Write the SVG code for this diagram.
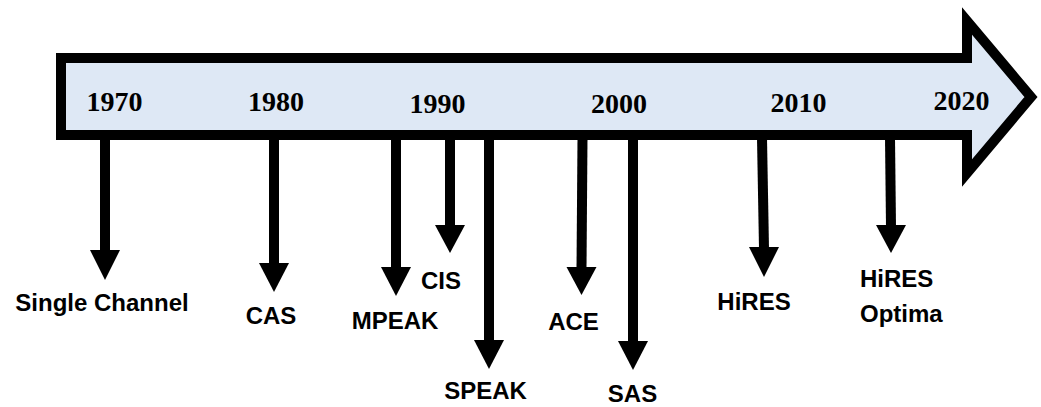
<svg xmlns="http://www.w3.org/2000/svg" width="1041" height="407" viewBox="0 0 1041 407">
<style>
.yr{font-family:"Liberation Serif","Times New Roman",serif;font-weight:bold;font-size:28px;fill:#000}
.lb{font-family:"Liberation Sans",Arial,sans-serif;font-weight:bold;font-size:24px;fill:#000}
.sh{stroke:#000;stroke-width:10;fill:none}
.hd{fill:#000}
</style>
<rect width="1041" height="407" fill="#fff"/>
<g id="timeline">
<path d="M61,58 L967,58 L967,21 L1031,97 L967,173 L967,135 L61,135 Z" fill="#DEE8F5" stroke="#000" stroke-width="10" stroke-linejoin="miter" stroke-miterlimit="10"/>
<text class="yr" x="114.5" y="111" text-anchor="middle">1970</text>
<text class="yr" x="276" y="111" text-anchor="middle">1980</text>
<text class="yr" x="437.5" y="113" text-anchor="middle">1990</text>
<text class="yr" x="619" y="113" text-anchor="middle">2000</text>
<text class="yr" x="798.5" y="112" text-anchor="middle">2010</text>
<text class="yr" x="961.5" y="110" text-anchor="middle">2020</text>
</g>
<g id="connectors">
<line class="sh" x1="105" y1="138" x2="105" y2="252"/><polygon class="hd" points="90,250 120,250 105,280"/>
<line class="sh" x1="274" y1="138" x2="274" y2="265"/><polygon class="hd" points="259,263 289,263 274,292"/>
<line class="sh" x1="396" y1="138" x2="396" y2="269"/><polygon class="hd" points="381,267 411,267 396,296"/>
<line class="sh" x1="450" y1="138" x2="450" y2="227"/><polygon class="hd" points="435,225 465,225 450,253"/>
<line class="sh" x1="489" y1="138" x2="489" y2="342"/><polygon class="hd" points="474,340 504,340 489,369"/>
<line class="sh" x1="582.5" y1="138" x2="581.5" y2="269"/><polygon class="hd" points="566.5,267 596.5,267 581.5,295"/>
<line class="sh" x1="633" y1="138" x2="633" y2="343"/><polygon class="hd" points="618,341 648,341 633,370"/>
<line class="sh" x1="762" y1="138" x2="764" y2="249"/><polygon class="hd" points="749,247 779,247 764,277"/>
<line class="sh" x1="890" y1="138" x2="891" y2="227"/><polygon class="hd" points="876,225 906,225 891,253"/>
</g>
<g id="n-single"><text class="lb" x="102" y="311" text-anchor="middle">Single Channel</text></g>
<g id="n-cas"><text class="lb" x="271" y="324" text-anchor="middle">CAS</text></g>
<g id="n-mpeak"><text class="lb" x="395" y="329" text-anchor="middle">MPEAK</text></g>
<g id="n-cis"><text class="lb" x="441" y="289" text-anchor="middle">CIS</text></g>
<g id="n-speak"><text class="lb" x="485.5" y="399" text-anchor="middle">SPEAK</text></g>
<g id="n-ace"><text class="lb" x="573.5" y="330" text-anchor="middle">ACE</text></g>
<g id="n-sas"><text class="lb" x="632.5" y="402" text-anchor="middle">SAS</text></g>
<g id="n-hires"><text class="lb" x="754" y="310" text-anchor="middle">HiRES</text></g>
<g id="n-optima"><text class="lb" x="860" y="287">HiRES</text><text class="lb" x="860" y="322">Optima</text></g>
</svg>
